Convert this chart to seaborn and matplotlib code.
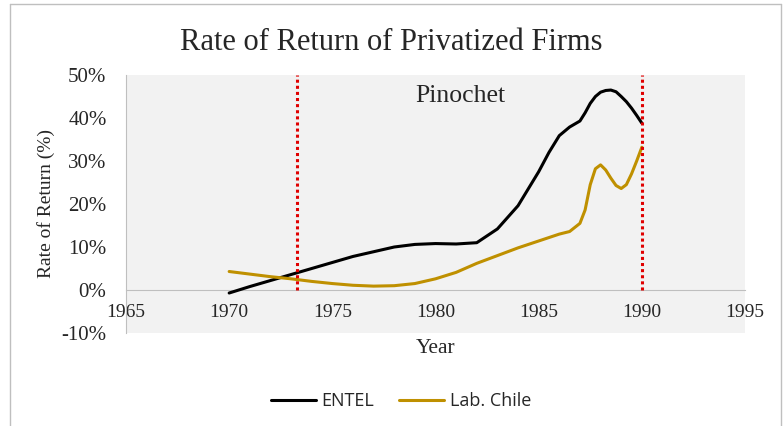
import pandas as pd
import numpy as np
import matplotlib
matplotlib.use('Agg')
import matplotlib.pyplot as plt
import seaborn as sns
from matplotlib.lines import Line2D

# values (rate of return, %)
years = [1970, 1971, 1972, 1973, 1974, 1975, 1976, 1977, 1978, 1979, 1980,
         1981, 1982, 1983, 1984, 1985, 1985.5, 1986, 1986.5, 1987, 1987.25,
         1987.5, 1987.75, 1988, 1988.25, 1988.5, 1988.75, 1989, 1989.25,
         1989.5, 1989.75, 1990]
entel = [-0.7, 0.8, 2.2, 3.6, 5.0, 6.4, 7.8, 8.9, 10.0, 10.6, 10.8,
         10.7, 11.0, 14.2, 19.6, 27.5, 32.0, 35.9, 37.9, 39.3, 41.2,
         43.4, 45.0, 46.0, 46.4, 46.5, 46.1, 45.0, 43.8, 42.3, 40.6, 38.8]
lab_chile = [4.3, 3.7, 3.1, 2.6, 2.0, 1.5, 1.1, 0.9, 1.0, 1.5, 2.6,
             4.1, 6.2, 8.0, 9.8, 11.4, 12.2, 13.0, 13.6, 15.5, 18.6,
             24.5, 28.2, 29.1, 27.9, 26.0, 24.3, 23.6, 24.5, 27.0, 30.0, 33.2]
series_names = ['ENTEL', 'Lab. Chile']
colors = ['#000000', '#BF9000']
regime_years = [1973.3, 1990]

df = pd.DataFrame({
    'Year': years * 2,
    'Rate': entel + lab_chile,
    'Series': [series_names[0]] * len(years) + [series_names[1]] * len(years),
})

sns.set_style('white')
plt.rcParams['font.family'] = ['Liberation Serif', 'DejaVu Serif']

fig = plt.figure(figsize=(7.83, 4.26), dpi=100)
ax = fig.add_axes([126 / 783, 1 - 333 / 426, 619 / 783, 258 / 426])
ax.set_facecolor('#F2F2F2')

sns.lineplot(data=df, x='Year', y='Rate', hue='Series', palette=colors,
             linewidth=2.2, ax=ax, legend=False, sort=True)

# Pinochet period markers
ax.vlines(regime_years, 0, 50, colors='#E00000', linestyles=(0, (1, 1)),
          linewidth=2.2, zorder=3)
ax.text(1981.2, 45, 'Pinochet', fontsize=18.5, ha='center', va='center')

ax.set_xlim(1965, 1995)
ax.set_ylim(-10, 50)
ax.set_xticks(range(1965, 1996, 5))
ax.set_yticks(range(-10, 51, 10))
ax.set_yticklabels([f'{v}%' for v in range(-10, 51, 10)])
ax.tick_params(axis='both', length=0)
ax.tick_params(axis='x', pad=10, labelsize=14)
ax.tick_params(axis='y', pad=14, labelsize=15)

for s in ['top', 'right']:
    ax.spines[s].set_visible(False)
ax.spines['bottom'].set_position(('data', 0))
ax.spines['bottom'].set_color('#BFBFBF')
ax.spines['left'].set_color('#BFBFBF')
ax.spines['bottom'].set_zorder(1)

ax.set_xlabel('Year', fontsize=15.5)
ax.xaxis.set_label_coords(0.5, -0.025)
ax.set_ylabel('Rate of Return (%)', fontsize=14)
ax.yaxis.set_label_coords(-0.115, 0.5)

fig.suptitle('Rate of Return of Privatized Firms', fontsize=22, y=0.935)

handles = [Line2D([0], [0], color=c, lw=2.2) for c in colors]
fig.legend(handles, series_names, loc='center', bbox_to_anchor=(0.512, 0.058),
           ncol=2, frameon=False, handlelength=2.5, columnspacing=1.4,
           handletextpad=0.3, prop={'family': 'Open Sans', 'size': 13})

# outer frame as in the original
for xs, ys in [([10 / 783, 10 / 783], [0, 1 - 4 / 426]),
               ([10 / 783, 781 / 783], [1 - 4 / 426, 1 - 4 / 426]),
               ([781 / 783, 781 / 783], [0, 1 - 4 / 426])]:
    fig.add_artist(Line2D(xs, ys, color='#BFBFBF', lw=1, transform=fig.transFigure))

fig.savefig('out.png', dpi=100)
